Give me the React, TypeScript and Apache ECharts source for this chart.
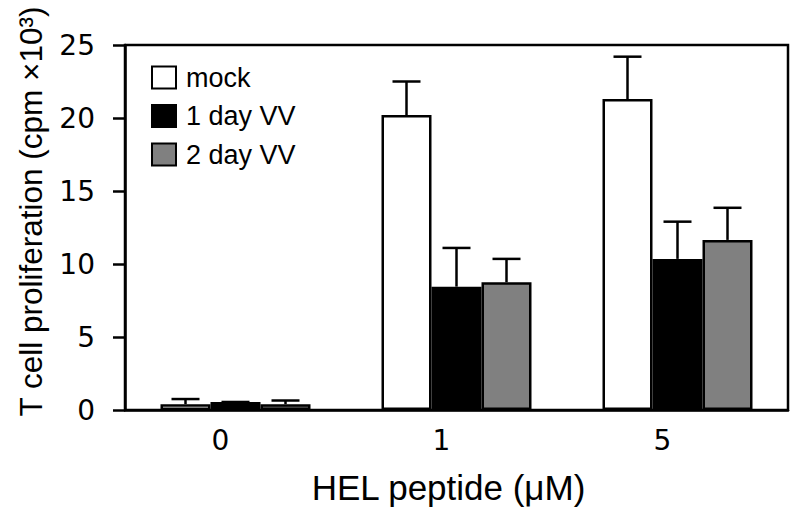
import React, { useEffect, useRef } from "react";
import * as echarts from "echarts";

const categories = ["0", "1", "5"];
const seriesNames = ["mock", "1 day VV", "2 day VV"];
const mockValues = [0.4, 20.2, 21.3];
const mockErrors = [0.35, 2.3, 2.9];
const day1Values = [0.55, 8.45, 10.35];
const day1Errors = [0, 2.65, 2.55];
const day2Values = [0.4, 8.75, 11.65];
const day2Errors = [0.25, 1.6, 2.2];
const yTicks = { min: 0, max: 25, interval: 5 };

const FONT = "'Liberation Sans', Arial, Helvetica, sans-serif";
const NUM_FONT = "'DejaVu Sans', 'Liberation Sans', sans-serif";
const fills = ["#ffffff", "#000000", "#808080"];
const BAR_W = 50;

export default function App() {
  const ref = useRef<HTMLDivElement>(null);
  useEffect(() => {
    if (!ref.current) return;
    const chart = echarts.init(ref.current, null, { renderer: "svg" });
    const values = [mockValues, day1Values, day2Values];
    const errors = [mockErrors, day1Errors, day2Errors];
    const barSeries = values.map((vals, i) => ({
      name: seriesNames[i],
      type: "bar",
      data: vals,
      barWidth: BAR_W,
      barGap: "0%",
      itemStyle: { color: fills[i], borderColor: "#000", borderWidth: 2.5 },
      z: 2,
    }));
    const errData: number[][] = [];
    values.forEach((vals, s) =>
      vals.forEach((v, c) => errData.push([c, v, errors[s][c], s]))
    );
    const errSeries = {
      type: "custom",
      name: "err",
      z: 3,
      data: errData,
      renderItem: (params: any, api: any) => {
        const c = api.value(0);
        const v = api.value(1);
        const e = api.value(2);
        const s = api.value(3);
        const base = api.coord([c, v]);
        const top = api.coord([c, v + e]);
        const x = base[0] + (s - 1) * BAR_W;
        const cap = 14;
        const st = { stroke: "#000", lineWidth: 2.5 };
        return {
          type: "group",
          children: [
            { type: "line", shape: { x1: x, y1: base[1], x2: x, y2: top[1] }, style: st },
            { type: "line", shape: { x1: x - cap, y1: top[1], x2: x + cap, y2: top[1] }, style: st },
          ],
        };
      },
    };
    chart.setOption({
      animation: false,
      textStyle: { fontFamily: FONT, color: "#000" },
      grid: {
        left: 125,
        right: 12,
        top: 45,
        bottom: 105,
        show: true,
        borderColor: "#000",
        borderWidth: 2.5,
        containLabel: false,
      },
      legend: {
        data: seriesNames,
        orient: "vertical",
        left: 146,
        top: 59,
        icon: "rect",
        itemWidth: 24,
        itemHeight: 22,
        itemGap: 11.5,
        textStyle: { fontFamily: FONT, fontSize: 27, lineHeight: 22, color: "#000", padding: [0, 0, 0, 5] },
        selectedMode: false,
      },
      xAxis: {
        type: "category",
        data: categories,
        axisTick: { show: false },
        axisLine: { lineStyle: { color: "#000", width: 2.5 } },
        axisLabel: { fontFamily: NUM_FONT, fontSize: 28, color: "#000", margin: 16, padding: [0, 30, 0, 0] },
        name: "HEL peptide (\u03bcM)",
        nameLocation: "middle",
        nameGap: 60,
        nameTextStyle: { fontFamily: FONT, fontSize: 35, color: "#000", padding: [0, 16, 0, 0] },
      },
      yAxis: {
        type: "value",
        min: yTicks.min,
        max: yTicks.max,
        interval: yTicks.interval,
        splitLine: { show: false },
        axisLine: { show: true, lineStyle: { color: "#000", width: 2.5 } },
        axisTick: { show: true, length: 12, lineStyle: { color: "#000", width: 2.5 } },
        axisLabel: { fontFamily: NUM_FONT, fontSize: 28, color: "#000", margin: 30, padding: [0, 0, 8, 0] },
        name: "T cell proliferation (cpm \u00d710\u00b3)",
        nameLocation: "middle",
        nameGap: 78,
        nameTextStyle: { fontFamily: FONT, fontSize: 31.5, color: "#000", padding: [0, 0, 0, 32] },
      },
      series: [...barSeries, errSeries],
    });
    return () => chart.dispose();
  }, []);
  return (
    <div
      ref={ref}
      style={{ position: "fixed", left: 0, top: 0, width: 800, height: 515, background: "#fff" }}
    />
  );
}
